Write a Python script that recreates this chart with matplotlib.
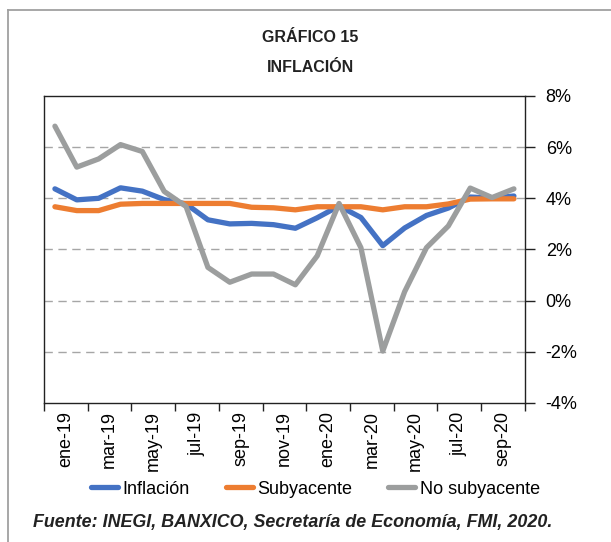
import matplotlib.pyplot as plt
from matplotlib.lines import Line2D

plt.rcParams['font.family'] = ['Liberation Sans', 'DejaVu Sans']

# Monthly data, ene-19 .. oct-20 (annual % change)
months = ['ene-19', 'feb-19', 'mar-19', 'abr-19', 'may-19', 'jun-19', 'jul-19', 'ago-19',
          'sep-19', 'oct-19', 'nov-19', 'dic-19', 'ene-20', 'feb-20', 'mar-20', 'abr-20',
          'may-20', 'jun-20', 'jul-20', 'ago-20', 'sep-20', 'oct-20']
inflacion = [4.37, 3.94, 4.00, 4.41, 4.28, 3.95, 3.78, 3.16, 3.00, 3.02, 2.97, 2.83,
             3.24, 3.70, 3.25, 2.15, 2.84, 3.33, 3.62, 4.05, 4.01, 4.09]
subyacente = [3.67, 3.52, 3.52, 3.77, 3.80, 3.80, 3.80, 3.80, 3.80, 3.65, 3.63, 3.55,
              3.67, 3.67, 3.67, 3.55, 3.67, 3.67, 3.78, 3.97, 3.98, 3.98]
no_subyacente = [6.82, 5.22, 5.54, 6.10, 5.83, 4.27, 3.68, 1.30, 0.72, 1.04, 1.04, 0.62,
                 1.75, 3.80, 2.07, -1.97, 0.35, 2.07, 2.92, 4.40, 4.03, 4.37]
y_ticks = [-4, -2, 0, 2, 4, 6, 8]

fig = plt.figure(figsize=(6.11, 5.42), dpi=100)
ax = fig.add_axes([0.072, 0.2565, 0.787, 0.5664])

x = list(range(len(months)))
ax.plot(x, inflacion, color='#4472C4', lw=3.8, label='Inflación', solid_capstyle='round')
ax.plot(x, subyacente, color='#ED7D31', lw=3.8, label='Subyacente', solid_capstyle='round')
ax.plot(x, no_subyacente, color='#9C9E9E', lw=3.8, label='No subyacente', solid_capstyle='round')

ax.set_xlim(-0.5, len(months) - 0.5)
ax.set_ylim(-4, 8)

# gridlines (dashed) except at the limits
for v in y_ticks[1:-1]:
    ax.axhline(v, color='#A6A6A6', lw=1, ls=(0, (6, 4)), zorder=0)

# y axis on the right
ax.yaxis.tick_right()
ax.set_yticks(y_ticks)
ax.set_yticklabels([f'{v}%' for v in y_ticks])
ax.tick_params(axis='y', which='major', length=7, width=1, pad=8, labelsize=13, color='#222222')

# x ticks between every two months, labels centred in each span
ax.set_xticks([i - 0.5 for i in range(0, len(months) + 1, 2)])
ax.set_xticklabels([])
ax.set_xticks([i + 0.5 for i in range(0, len(months), 2)], minor=True)
ax.set_xticklabels(months[::2], minor=True, rotation=90)
ax.tick_params(axis='x', which='major', length=6, width=1, color='#222222')
ax.tick_params(axis='x', which='minor', length=0, pad=6, labelsize=13)

for s in ax.spines.values():
    s.set_color('#222222')
    s.set_linewidth(1)

fig.text(0.508, 1 - 38 / 542, 'GRÁFICO 15', ha='center', va='center',
         fontsize=11.5, fontweight='bold', color='#222222')
fig.text(0.508, 1 - 67 / 542, 'INFLACIÓN', ha='center', va='center',
         fontsize=11.5, fontweight='bold', color='#222222')

fig.legend(loc='center', bbox_to_anchor=(0.516, 1 - 489 / 542), ncol=3, frameon=False,
           fontsize=13, handlelength=1.5, handletextpad=0.25, columnspacing=2.0)

fig.text(33 / 611, 1 - 522 / 542, 'Fuente: INEGI, BANXICO, Secretaría de Economía, FMI, 2020.',
         ha='left', va='center', fontsize=12.9, fontweight='bold', fontstyle='italic',
         color='#222222')

# outer frame (left and top edges visible)
fig.add_artist(Line2D([8 / 611, 8 / 611], [0, 1 - 10 / 542], color='#A0A0A0', lw=1.3))
fig.add_artist(Line2D([8 / 611, 1], [1 - 10 / 542, 1 - 10 / 542], color='#A0A0A0', lw=1.3))

fig.savefig('out.png', dpi=100)
